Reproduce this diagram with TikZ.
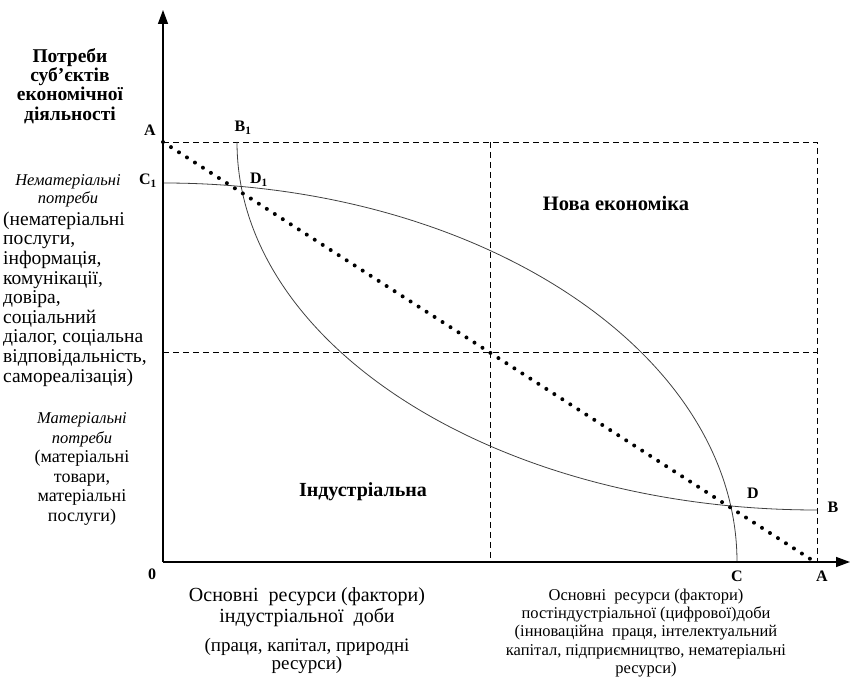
\documentclass[tikz,border=0pt]{standalone}
\usepackage{fontspec}
\setmainfont{Liberation Serif}
\usetikzlibrary{arrows.meta}
\tikzset{
    axis/.style={line width=1.4pt, -{Triangle[length=14pt, width=10pt]}}, % осі
    curve/.style={line width=0.8pt, black!75}, % криві
    guide/.style={dash pattern=on 6pt off 4pt, line width=0.8pt}, % штрихові лінії
    diag/.style={line width=4pt, line cap=round, dash pattern=on 0pt off 9.5pt}, % пунктир A--A
    pt label/.style={font=\fontsize{16}{16}\selectfont\bfseries, inner sep=0pt},
    note/.style={font=\fontsize{18}{19.5}\selectfont, align=center, inner sep=0pt}
}

\begin{document}
\begin{tikzpicture}[x=1pt, y=1pt]
    \useasboundingbox (-163,-120) rectangle (701,562);

    \coordinate (O) at (0,0);
    \coordinate (A) at (0,420);
    \coordinate (A2) at (652,0);
    \coordinate (C1) at (0,379);
    \coordinate (B1) at (74,420);
    \coordinate (E) at (654,420);
    \coordinate (Ex) at (654,0);
    \coordinate (Mt) at (327,420);
    \coordinate (Mb) at (327,0);
    \coordinate (Ml) at (0,210);
    \coordinate (Mr) at (654,210);

    \draw[guide] (A) -- (E) -- (Ex);
    \draw[guide] (Mt) -- (Mb);
    \draw[guide] (Ml) -- (Mr);

    \draw[curve] (C1) arc[start angle=90, end angle=0, x radius=574, y radius=379] coordinate (C);
    \draw[curve] (B1) arc[start angle=180, end angle=270, x radius=580, y radius=368] coordinate (B);

    \draw[diag] (A) -- (A2);

    \draw[axis] (O) -- (0,552);
    \draw[axis] (O) -- (687,0);

    % позначки точок
    \node[pt label] (lA) at (-13,432) {A};
    \node[pt label] (lB1) at (80,434) {B\textsubscript{1}};
    \node[pt label] (lC1) at (-15,381) {C\textsubscript{1}};
    \node[pt label] (lD1) at (96,382) {D\textsubscript{1}};
    \node[pt label] (lD) at (590,69) {D};
    \node[pt label] (lB) at (670,55) {B};
    \node[pt label] (lC) at (574,-14) {C};
    \node[pt label] (lA2) at (659,-14) {A};
    \node[pt label] (l0) at (-11,-12) {0};

    % підписи
    \node[note, font=\fontsize{19.5}{19.2}\selectfont\bfseries] (needs) at (-93,476) {Потреби\\суб’єктів\\економічної\\діяльності};
    \node[note, font=\fontsize{16.5}{18.5}\selectfont\itshape] (immat) at (-95,371) {Нематеріальні\\потреби};
    \node[note, font=\fontsize{19.5}{19.6}\selectfont, align=left, anchor=west] (immatlist) at (-160,263) {(нематеріальні\\послуги,\\інформація,\\комунікації,\\довіра,\\соціальний\\діалог, соціальна\\відповідальність,\\самореалізація)};
    \node[note] (mat) at (-81,93) {{\fontsize{16.5}{19.5}\selectfont\itshape Матеріальні}\\{\fontsize{16.5}{19.5}\selectfont\itshape потреби}\\(матеріальні\\товари,\\матеріальні\\послуги)};

    \node[note, font=\fontsize{20.5}{20}\selectfont\bfseries] (neweco) at (453,359) {Нова економіка};
    \node[note, font=\fontsize{20}{20}\selectfont\bfseries] (indus) at (200,70) {Індустріальна};

    \node[note, font=\fontsize{20}{21}\selectfont] (res1) at (144,-45) {Основні\ \ ресурси (фактори)\\індустріальної\ \ доби};
    \node[note, font=\fontsize{19}{18}\selectfont] (res1x) at (144,-94) {(праця, капітал, природні\\ресурси)};
    \node[note, font=\fontsize{16.5}{18.3}\selectfont] (res2) at (483,-71) {Основні\ \ ресурси (фактори)\\постіндустріальної (цифрової)доби\\(інноваційна\ \ праця, інтелектуальний\\капітал, підприємництво, нематеріальні\\ресурси)};
\end{tikzpicture}
\end{document}
